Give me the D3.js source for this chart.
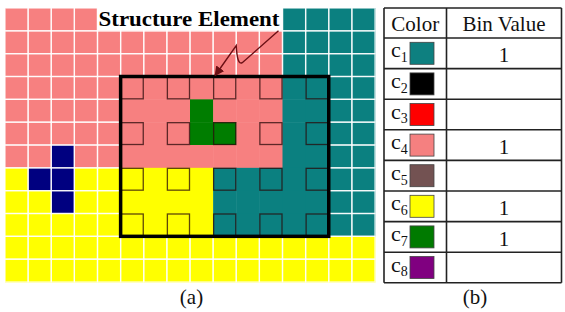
<!DOCTYPE html>
<html><head><meta charset="utf-8">
<script src="https://cdn.jsdelivr.net/npm/d3@7"></script>
<style>html,body{margin:0;padding:0;background:#fff;}svg{display:block;}text{font-family:'Liberation Serif',serif;}</style>
</head><body><svg id="c" width="565" height="312"></svg>
<script>
// ---- data ----
const colorCodes = {P:"#f78080", T:"#0b8080", Y:"#ffff00", N:"#000080", G:"#007d00"};
const gridRows = [
  "PPPPPPPPPPPPTTTT",
  "PPPPPPPPPPPPTTTT",
  "PPPPPPPPPPPPTTTT",
  "PPPPPPPPPPPPTTTT",
  "PPPPPPPPGPPPTTTT",
  "PPPPPPPPGGPPTTTT",
  "PPNPPPPPPPPPTTTT",
  "YNNYYYYYYTTTTTTT",
  "YYNYYYYYYTTTTTTT",
  "YYYYYYYYYTTTTTTT",
  "YYYYYYYYYYYYYYYY",
  "YYYYYYYYYYYYYYYY"
];
const boxCols = [5, 13];      // structure element window (inclusive)
const boxRows = [3, 9];
const seCols = [5, 7, 9, 11, 13];
const seRows = [3, 5, 7, 9];
const labelCols = [4, 11];    // label sits over row 0 of these columns
const labelText = "Structure Element";

const binNames = ["1","2","3","4","5","6","7","8"];
const binColors = ["#0e8080","#000000","#ff0000","#f58080","#735252","#ffff00","#007a00","#800080"];
const binValues = ["1","","","1","","1","1",""];
const headers = ["Color","Bin Value"];
const captions = ["(a)","(b)"];

// ---- drawing ----
const svg = d3.select("#c");
const nCols = gridRows[0].length, nRows = gridRows.length;
const x = d3.scaleBand().domain(d3.range(nCols)).range([5, 375]);
const y = d3.scaleBand().domain(d3.range(nRows)).range([8, 282]);
const cw = x.bandwidth(), ch = y.bandwidth();

const cells = [];
gridRows.forEach((row, r) => row.split("").forEach((code, c) => cells.push({r, c, code})));

svg.append("g").selectAll("rect").data(cells).join("rect")
  .attr("x", d => x(d.c)).attr("y", d => y(d.r))
  .attr("width", cw + 0.5).attr("height", ch + 0.5)
  .attr("fill", d => colorCodes[d.code]);

// white grid lines outside the structure window
const inBox = (c, r) => c >= boxCols[0] && c <= boxCols[1] && r >= boxRows[0] && r <= boxRows[1];
svg.append("g").selectAll("rect").data(cells.filter(d => !inBox(d.c, d.r))).join("rect")
  .attr("x", d => x(d.c)).attr("y", d => y(d.r))
  .attr("width", cw).attr("height", ch)
  .attr("fill", "none").attr("stroke", "#fff").attr("stroke-opacity", 0.8).attr("stroke-width", 1.3);

// structure element outlines
const seCells = [];
seRows.forEach(r => seCols.forEach(c => seCells.push({r, c})));
svg.append("g").selectAll("rect").data(seCells).join("rect")
  .attr("x", d => x(d.c) + 0.5).attr("y", d => y(d.r) + 0.5)
  .attr("width", cw - 1).attr("height", ch - 1)
  .attr("fill", "none").attr("stroke", "#2a0a0a").attr("stroke-opacity", 0.75).attr("stroke-width", 1.3);

// window box
svg.append("rect")
  .attr("x", x(boxCols[0])).attr("y", y(boxRows[0]))
  .attr("width", x(boxCols[1]) + cw - x(boxCols[0]))
  .attr("height", y(boxRows[1]) + ch - y(boxRows[0]))
  .attr("fill", "none").attr("stroke", "#000").attr("stroke-width", 3.5);

// label
svg.append("rect")
  .attr("x", x(labelCols[0])).attr("y", 0)
  .attr("width", x(labelCols[1]) + cw - x(labelCols[0])).attr("height", y(1) - 0.5)
  .attr("fill", "#fff");
svg.append("text")
  .attr("x", x(labelCols[0]) + 1).attr("y", 26)
  .style("font-family", "'Liberation Serif', serif").attr("font-weight", "bold").attr("font-size", 20)
  .attr("textLength", 181).attr("lengthAdjust", "spacingAndGlyphs")
  .attr("fill", "#000").text(labelText);

// arrow
svg.append("defs").append("marker").attr("id", "ah")
  .attr("viewBox", "0 0 10 10").attr("refX", 9).attr("refY", 5)
  .attr("markerWidth", 7).attr("markerHeight", 7).attr("orient", "auto-start-reverse")
  .append("path").attr("d", "M0,0 L10,5 L0,10 z").attr("fill", "#6b0f14");
const bx = x(9) + 2, by = y(boxRows[0]);
svg.append("path")
  .attr("d", `M${x(12) - 4},${y(1)} L${x(10) + 6},${y(2) + 9} Q${x(10) + 1},${y(2) + 12} ${x(10)},${y(2) - 8} L${bx},${by - 1}`)
  .attr("fill", "none").attr("stroke", "#6b0f14").attr("stroke-width", 1.4)
  .attr("marker-end", "url(#ah)");

// ---- table ----
const tx0 = 384, tx1 = 446.5, tx2 = 561.5, ty0 = 8, hh = 30;
const rowH = (282.8 - ty0 - hh) / binNames.length;
const ty = d3.scaleBand().domain(d3.range(binNames.length)).range([ty0 + hh, ty0 + hh + rowH * binNames.length]);
const tg = svg.append("g");
const tableBottom = ty0 + hh + rowH * binNames.length;
const hLines = [ty0, ty0 + hh].concat(d3.range(binNames.length).map(i => ty(i) + rowH));
tg.selectAll("line.h").data(hLines).join("line")
  .attr("x1", tx0).attr("x2", tx2).attr("y1", d => d).attr("y2", d => d)
  .attr("stroke", "#222").attr("stroke-width", 1.6);
tg.selectAll("line.v").data([tx0, tx1, tx2]).join("line")
  .attr("x1", d => d).attr("x2", d => d).attr("y1", ty0).attr("y2", tableBottom)
  .attr("stroke", "#222").attr("stroke-width", 1.6);

const serif = "'Liberation Serif', serif";
tg.selectAll("text.hd").data(headers).join("text")
  .attr("x", (d, i) => i === 0 ? (tx0 + tx1) / 2 : (tx1 + tx2) / 2)
  .attr("y", ty0 + 23).attr("text-anchor", "middle")
  .style("font-family", serif).attr("font-size", 21).attr("fill", "#111").text(d => d);

const rows = tg.selectAll("g.row").data(binNames).join("g")
  .attr("transform", (d, i) => `translate(0,${ty(i)})`);
const lab = rows.append("text").attr("x", tx0 + 7).attr("y", rowH / 2 + 4)
  .style("font-family", serif).attr("font-size", 22).attr("fill", "#111");
lab.append("tspan").text("c");
lab.append("tspan").attr("dy", 5).attr("font-size", 14).text(d => d);
rows.append("rect").attr("x", tx0 + 26).attr("y", rowH / 2 - 11)
  .attr("width", 24).attr("height", 22)
  .attr("fill", (d, i) => binColors[i]).attr("stroke", "#444").attr("stroke-width", 0.8);
rows.append("text").attr("x", (tx1 + tx2) / 2).attr("y", rowH / 2 + 9)
  .attr("text-anchor", "middle").style("font-family", serif).attr("font-size", 21).attr("fill", "#111")
  .text((d, i) => binValues[i]);

// captions
svg.selectAll("text.cap").data(captions).join("text")
  .attr("x", (d, i) => i === 0 ? 191.5 : 475).attr("y", 304)
  .attr("text-anchor", "middle").style("font-family", serif).attr("font-size", 21).attr("fill", "#111")
  .text(d => d);
</script></body></html>
